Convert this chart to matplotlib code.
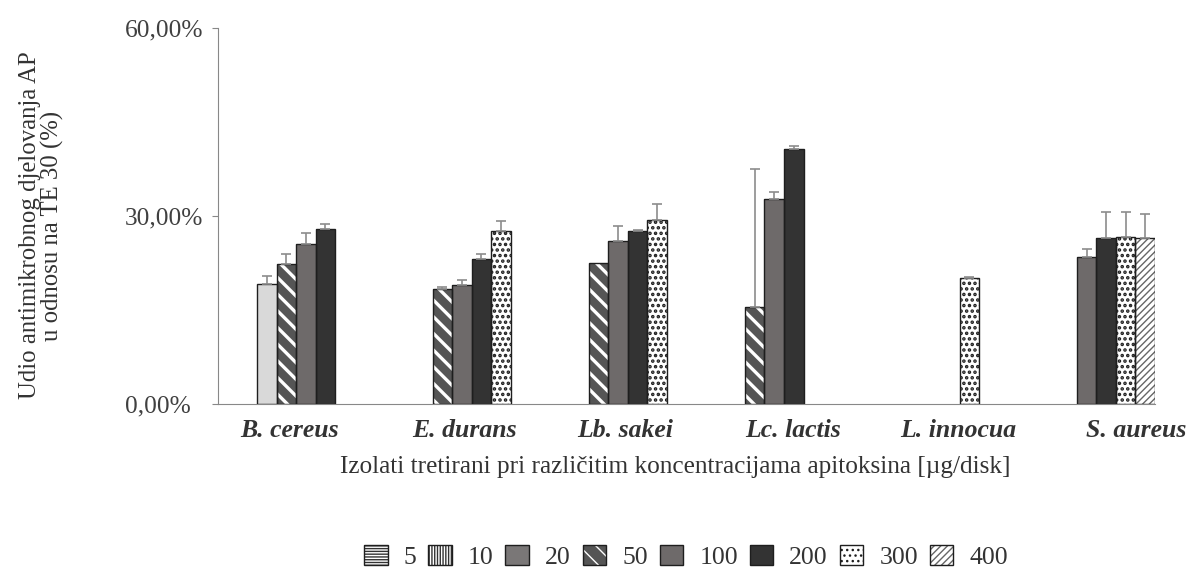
import numpy as np
import matplotlib
matplotlib.use('Agg')
import matplotlib.pyplot as plt
from matplotlib.patches import Patch

plt.rcParams['font.family'] = ['Liberation Serif', 'DejaVu Serif']

categories = ['B. cereus', 'E. durans', 'Lb. sakei', 'Lc. lactis', 'L. innocua', 'S. aureus']
concentrations = ['5', '10', '20', '50', '100', '200', '300', '400']
nan = np.nan
# udio (%) po koncentraciji, redoslijed kao categories
values = {
    '5':   [nan, nan, nan, nan, nan, nan],
    '10':  [nan, nan, nan, nan, nan, nan],
    '20':  [19.1, nan, nan, nan, nan, nan],
    '50':  [22.3, 18.3, 22.5, 15.5, nan, nan],
    '100': [25.5, 19.0, 26.0, 32.7, nan, 23.4],
    '200': [27.9, 23.1, 27.6, 40.7, nan, 26.5],
    '300': [nan, 27.6, 29.3, nan, 20.1, 26.6],
    '400': [nan, nan, nan, nan, nan, 26.5],
}
errors = {
    '5':   [0, 0, 0, 0, 0, 0],
    '10':  [0, 0, 0, 0, 0, 0],
    '20':  [1.3, 0, 0, 0, 0, 0],
    '50':  [1.6, 0.4, 0, 22.0, 0, 0],
    '100': [1.8, 0.8, 2.4, 1.1, 0, 1.3],
    '200': [0.8, 0.8, 0.1, 0.4, 0, 4.1],
    '300': [0, 1.6, 2.6, 0, 0.1, 4.0],
    '400': [0, 0, 0, 0, 0, 3.8],
}

# rucno postavljeni nazivi kategorija (pomak od sredine grupe)
label_shift = [-0.04, 0.08, 0.11, 0.18, 0.24, 0.38]

# stil: (face, hatch colour, hatch, hatch lw)
styles = {
    '5':   ('white', '#333333', '------', 1.0),
    '10':  ('white', '#333333', '||||||', 1.0),
    '20':  ('#d9d9d9', '#222222', None, 1.0),
    '50':  ('#555555', 'white', '\\\\', 2.4),
    '100': ('#6e6a6a', '#222222', None, 1.0),
    '200': ('#333333', '#222222', None, 1.0),
    '300': ('white', '#1e1e1e', '...', 1.7),
    '400': ('white', '#666666', '/////', 1.0),
}
legend_face = {'20': '#7a7777'}

fig = plt.figure(figsize=(11.89, 5.71), dpi=100)
ax = fig.add_axes([0.1833, 0.2925, 0.788, 0.6585])

w = 1 / len(concentrations)
x = np.arange(len(categories))

def set_hlw(patches, lw):
    for p in patches:
        if hasattr(p, 'set_hatch_linewidth'):
            p.set_hatch_linewidth(lw)

for k, c in enumerate(concentrations):
    face, hcol, hatch, hlw = styles[c]
    h = np.array(values[c], dtype=float)
    ok = ~np.isnan(h)
    if not ok.any():
        continue
    xpos = x[ok] + (k - 3.5) * w
    ax.bar(xpos, h[ok], w, color=face, edgecolor='none', linewidth=0, zorder=2)
    if hatch:
        b = ax.bar(xpos, h[ok], w, color='none', edgecolor=hcol, linewidth=0,
                   hatch=hatch, zorder=3)
        set_hlw(b, hlw)
    ax.bar(xpos, h[ok], w, color='none', edgecolor='#1e1e1e', linewidth=1.0, zorder=4)
    e = np.array(errors[c], dtype=float)[ok]
    m = e > 0
    ax.errorbar(xpos[m], h[ok][m], yerr=[np.zeros(m.sum()), e[m]], fmt='none',
                ecolor='#8c8c8c', elinewidth=1.2, capsize=3.5, capthick=1.2, zorder=5)

ax.set_ylim(0, 60)
ax.set_xlim(-0.5, len(categories) - 0.5)
ax.set_yticks([0, 30, 60])
ax.set_yticklabels(['0,00%', '30,00%', '60,00%'], fontsize=18.3, color='#404040', ha='left')
ax.tick_params(axis='y', length=4, color='#888888', pad=63)
ax.set_xticks(x + np.array(label_shift))
ax.set_xticklabels(categories, fontsize=18.5, fontweight='bold', fontstyle='italic', color='#333333')
ax.tick_params(axis='x', length=0, pad=11)
for s in ['top', 'right']:
    ax.spines[s].set_visible(False)
ax.spines['left'].set_color('#888888')
ax.spines['bottom'].set_color('#888888')

fig.text(0.035, 0.605, 'Udio antimikrobnog djelovanja AP\nu odnosu na TE 30 (%)',
         rotation=90, ha='center', va='center', fontsize=17.8, color='#333333',
         linespacing=1.0, multialignment='center')
fig.text(0.568, 0.182, 'Izolati tretirani pri različitim koncentracijama apitoksina [µg/disk]',
         ha='center', va='center', fontsize=18.2, color='#333333')

handles = []
for c in concentrations:
    face, hcol, hatch, hlw = styles[c]
    face = legend_face.get(c, face)
    base = Patch(facecolor=face, edgecolor='none', linewidth=0)
    frame = Patch(facecolor='none', edgecolor='#1e1e1e', linewidth=1.0)
    if hatch:
        hp = Patch(facecolor='none', edgecolor=hcol, hatch=hatch, linewidth=0)
        set_hlw([hp], hlw)
        handles.append((base, hp, frame))
    else:
        handles.append((base, frame))
leg = fig.legend(handles, concentrations, loc='center', bbox_to_anchor=(0.577, 0.025),
                 ncol=8, frameon=False, fontsize=18.5, handlelength=0.93, handleheight=0.85,
                 handletextpad=0.62, columnspacing=0.45, borderpad=0.2)
for t in leg.get_texts():
    t.set_color('#333333')

fig.savefig('out.png', dpi=100)
